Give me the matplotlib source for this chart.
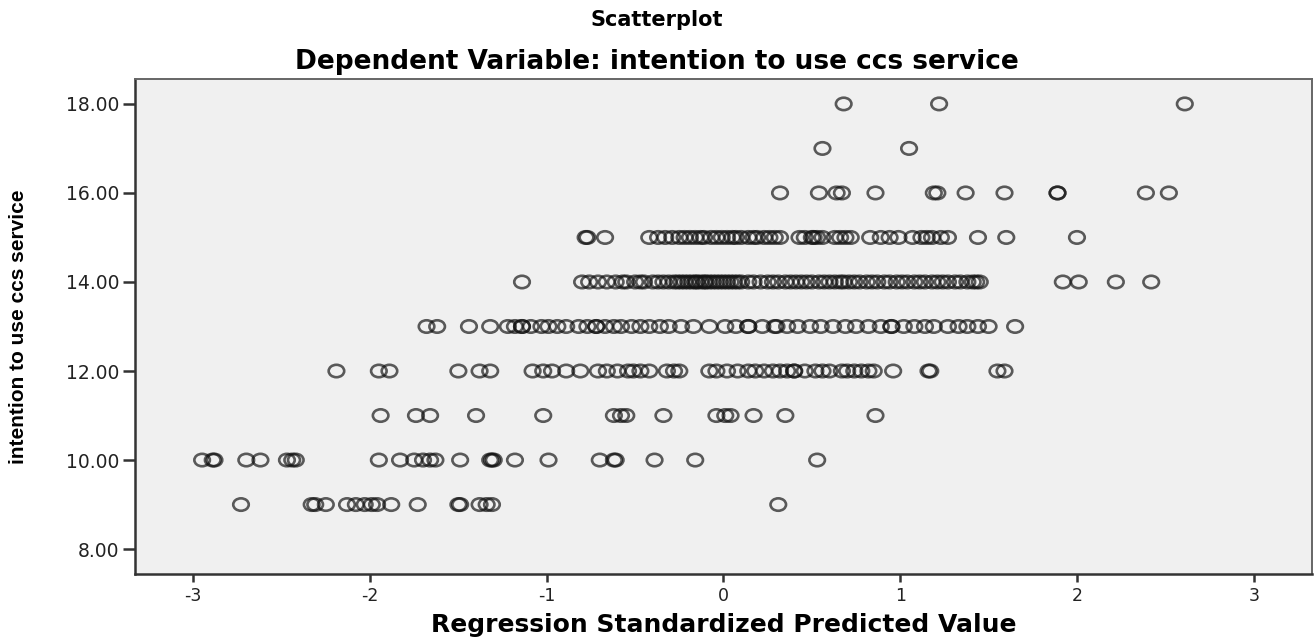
import numpy as np
import matplotlib.pyplot as plt
from matplotlib.path import Path
from matplotlib.transforms import Affine2D

# Regression standardized predicted value, grouped by the observed
# value of "intention to use ccs service"
pred_18 = [0.68, 1.22, 2.61]
pred_17 = [0.56, 1.05]
pred_16 = [0.32, 0.54, 0.64, 0.67, 0.86, 1.19, 1.21, 1.37, 1.59, 1.89, 1.89,
           2.39, 2.52]
pred_15 = [-0.78, -0.77, -0.67, -0.42, -0.37, -0.33, -0.29, -0.25, -0.22,
           -0.19, -0.16, -0.13, -0.11, -0.07, -0.04, -0.01, 0.02, 0.05, 0.07,
           0.10, 0.14, 0.17, 0.19, 0.23, 0.26, 0.29, 0.32, 0.43, 0.46, 0.50,
           0.51, 0.53, 0.56, 0.63, 0.66, 0.69, 0.72, 0.83, 0.89, 0.94, 0.99,
           1.07, 1.12, 1.15, 1.18, 1.23, 1.27, 1.44, 1.60, 2.00]
pred_14 = [-1.14, -0.80, -0.76, -0.71, -0.66, -0.61, -0.57, -0.55, -0.50,
           -0.47, -0.45, -0.40, -0.37, -0.34, -0.31, -0.28, -0.26, -0.24,
           -0.22, -0.20, -0.18, -0.16, -0.15, -0.13, -0.11, -0.10, -0.08,
           -0.06, -0.04, -0.02, 0.00, 0.02, 0.04, 0.06, 0.08, 0.10, 0.14,
           0.17, 0.21, 0.25, 0.28, 0.31, 0.35, 0.38, 0.41, 0.44, 0.47, 0.50,
           0.54, 0.57, 0.60, 0.63, 0.66, 0.68, 0.71, 0.74, 0.77, 0.81, 0.84,
           0.87, 0.91, 0.94, 0.98, 1.01, 1.04, 1.08, 1.11, 1.14, 1.18, 1.21,
           1.24, 1.27, 1.31, 1.34, 1.38, 1.41, 1.43, 1.45, 1.92, 2.01, 2.22,
           2.42]
pred_13 = [-1.68, -1.62, -1.44, -1.32, -1.22, -1.18, -1.14, -1.14, -1.09,
           -1.03, -0.99, -0.94, -0.89, -0.82, -0.77, -0.72, -0.72, -0.67,
           -0.62, -0.58, -0.52, -0.47, -0.42, -0.36, -0.31, -0.24, -0.17,
           -0.08, 0.01, 0.07, 0.14, 0.14, 0.22, 0.29, 0.30, 0.36, 0.42, 0.49,
           0.55, 0.62, 0.69, 0.75, 0.82, 0.89, 0.95, 0.95, 1.02, 1.08, 1.14,
           1.19, 1.27, 1.33, 1.38, 1.44, 1.50, 1.65]
pred_12 = [-2.19, -1.95, -1.89, -1.50, -1.38, -1.32, -1.08, -1.02, -0.97,
           -0.89, -0.81, -0.71, -0.66, -0.60, -0.54, -0.51, -0.47, -0.42,
           -0.32, -0.28, -0.25, -0.08, -0.04, 0.02, 0.08, 0.14, 0.18, 0.23,
           0.28, 0.32, 0.36, 0.40, 0.40, 0.46, 0.52, 0.56, 0.60, 0.67, 0.70,
           0.74, 0.78, 0.82, 0.85, 0.96, 1.16, 1.17, 1.55, 1.59]
pred_11 = [-1.94, -1.74, -1.66, -1.40, -1.02, -0.62, -0.58, -0.55, -0.34,
           -0.04, 0.01, 0.04, 0.17, 0.35, 0.86]
pred_10 = [-2.95, -2.89, -2.88, -2.70, -2.62, -2.47, -2.44, -2.42, -1.95,
           -1.83, -1.75, -1.70, -1.66, -1.63, -1.49, -1.32, -1.31, -1.30,
           -1.18, -0.99, -0.70, -0.62, -0.61, -0.39, -0.16, 0.53]
pred_9 = [-2.73, -2.33, -2.31, -2.25, -2.13, -2.08, -2.03, -1.99, -1.96,
          -1.88, -1.73, -1.50, -1.49, -1.38, -1.34, -1.31, 0.31]

levels = [18, 17, 16, 15, 14, 13, 12, 11, 10, 9]
groups = [pred_18, pred_17, pred_16, pred_15, pred_14, pred_13, pred_12,
          pred_11, pred_10, pred_9]

x = np.concatenate([np.array(g, dtype=float) for g in groups])
y = np.concatenate([np.full(len(g), lv, dtype=float) for g, lv in zip(groups, levels)])

# the original plot is a bit stretched sideways, so the rings are slightly wide
ring = Path.unit_circle().transformed(Affine2D().scale(1.25, 1.0))

fig = plt.figure(figsize=(13.14, 6.37), dpi=100)
ax = fig.add_axes([0.1027, 0.0989, 0.8958, 0.7771])
ax.set_facecolor('#f0f0f0')

ax.scatter(x, y, s=125, marker=ring, facecolors='none', edgecolors='#111111',
           linewidths=1.9, alpha=0.68)

ax.set_xlim(-3.33, 3.33)
ax.set_ylim(7.44, 18.56)
ax.set_xticks([-3, -2, -1, 0, 1, 2, 3])
ax.set_xticklabels(['-3', '-2', '-1', '0', '1', '2', '3'])
ax.set_yticks([8, 10, 12, 14, 16, 18])
ax.set_yticklabels(['%.2f' % v for v in [8, 10, 12, 14, 16, 18]])
ax.tick_params(axis='x', length=6, width=1.8, color='#333333', labelsize=12.5,
               pad=3, labelcolor='#222222')
ax.tick_params(axis='y', length=9, width=1.8, color='#333333', labelsize=13.5,
               pad=2, labelcolor='#222222')

for side in ['left', 'bottom']:
    ax.spines[side].set_color('#333333')
    ax.spines[side].set_linewidth(1.8)
for side in ['top', 'right']:
    ax.spines[side].set_color('#666666')
    ax.spines[side].set_linewidth(1.4)

fig.text(0.5, 0.968, 'Scatterplot', ha='center', va='center',
         fontsize=15, fontweight='bold', family='DejaVu Sans')
fig.text(0.5, 0.903, 'Dependent Variable: intention to use ccs service',
         ha='center', va='center', fontsize=19, fontweight='bold',
         family='DejaVu Sans')
fig.text(0.551, 0.019, 'Regression Standardized Predicted Value',
         ha='center', va='center', fontsize=18, fontweight='bold',
         family='DejaVu Sans')
fig.text(0.014, 0.487, 'intention to use ccs service', rotation=90,
         ha='center', va='center', fontsize=15, fontweight='bold',
         family=['Liberation Sans Narrow', 'DejaVu Sans Condensed', 'Liberation Sans'])

fig.savefig('out.png', dpi=100)
